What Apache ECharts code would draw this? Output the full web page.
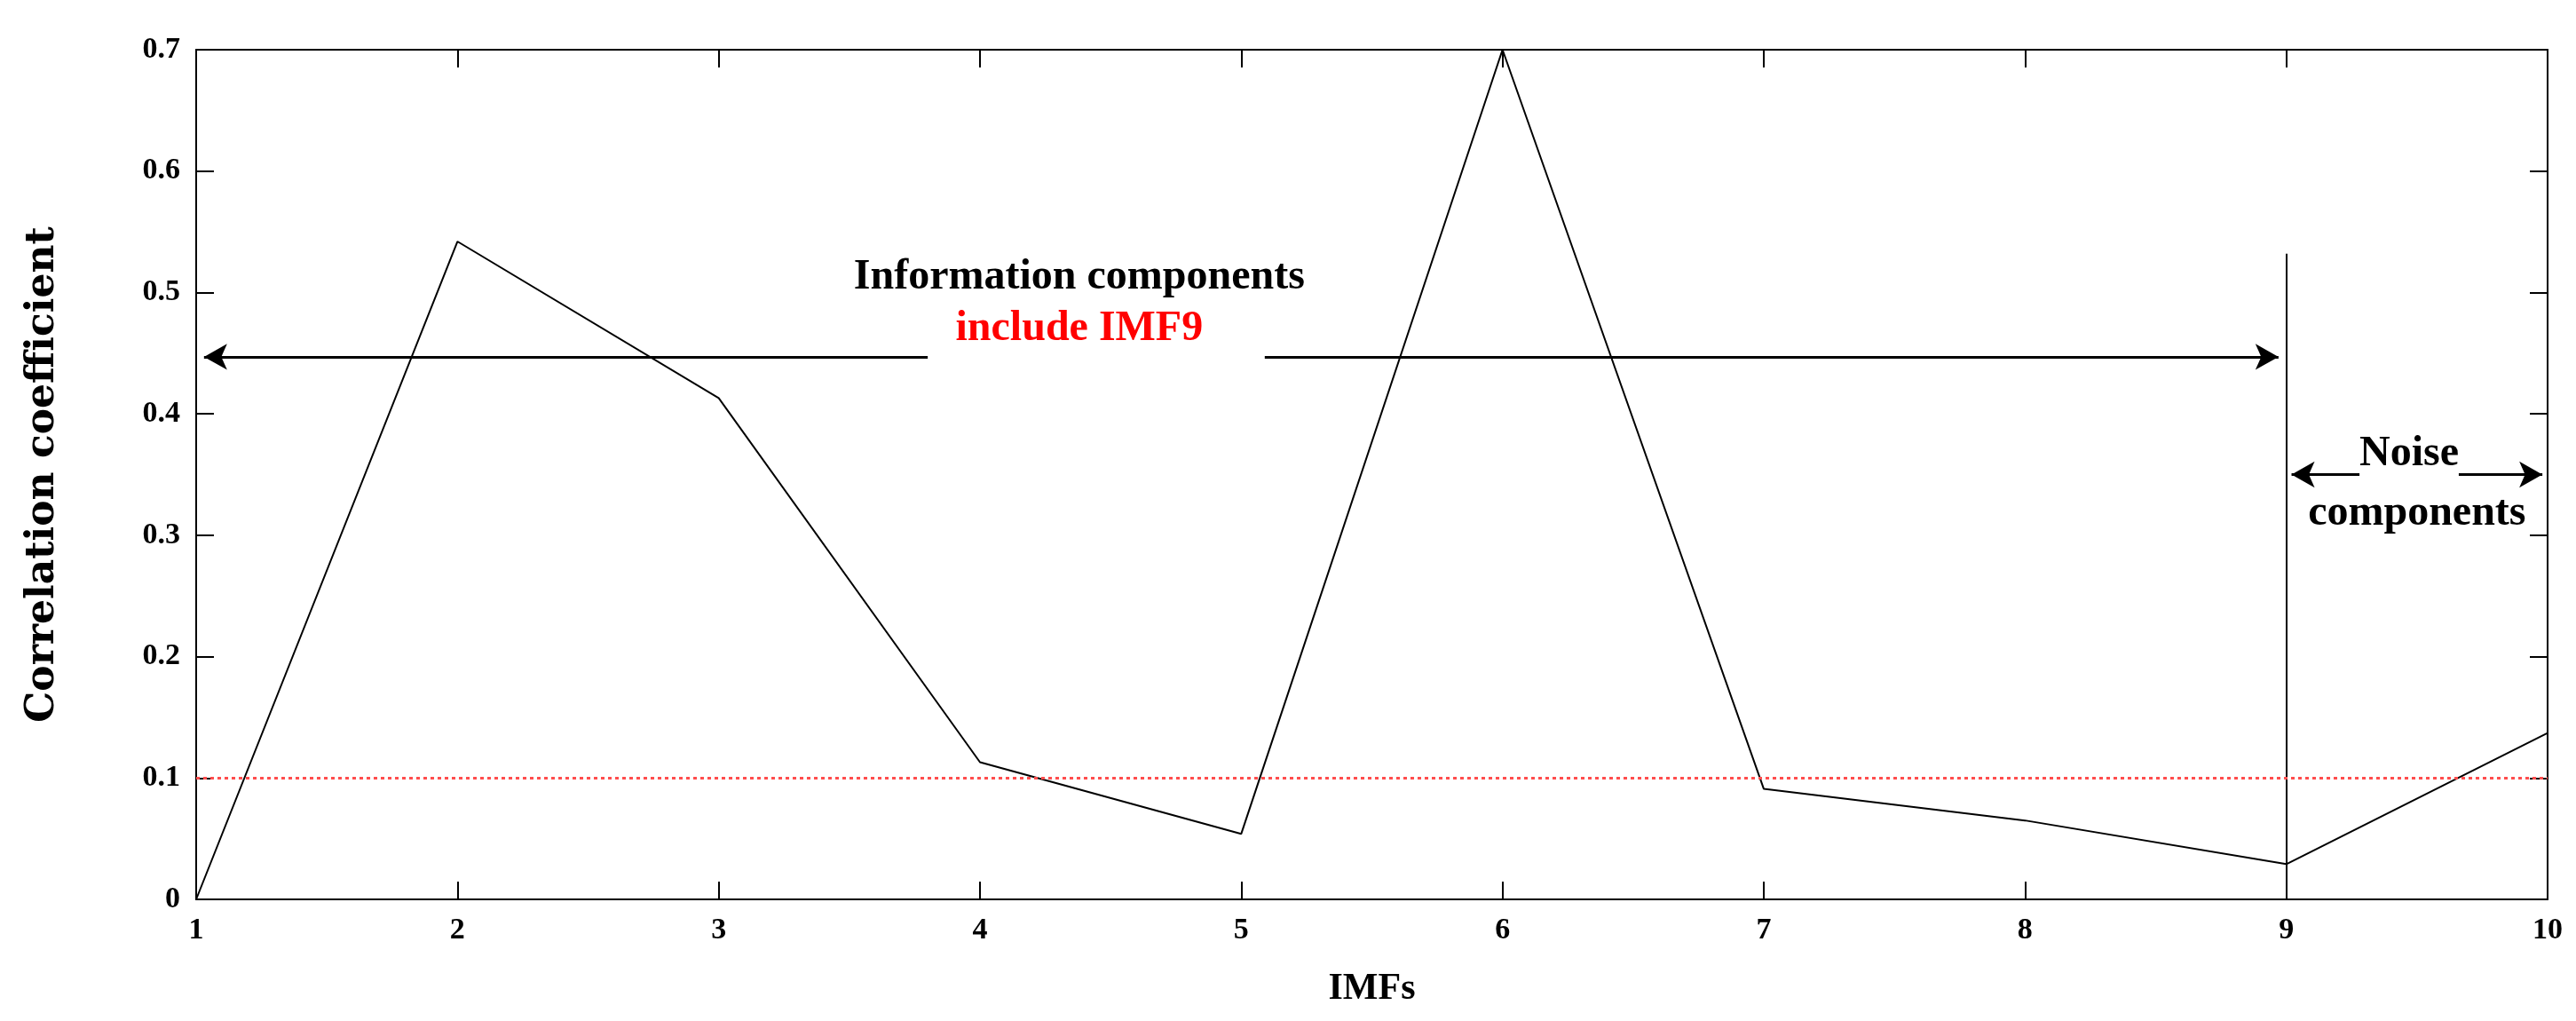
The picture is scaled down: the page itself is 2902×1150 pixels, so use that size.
<!DOCTYPE html>
<html>
<head>
<meta charset="utf-8">
<script src="https://cdn.jsdelivr.net/npm/echarts@6/dist/echarts.min.js"></script>
<style>html,body{margin:0;padding:0;background:#fff}#chart{width:2902px;height:1150px}</style>
</head>
<body>
<div id="chart"></div>
<script>
const imfs = [1, 2, 3, 4, 5, 6, 7, 8, 9, 10];
const corr = [0.0, 0.542, 0.413, 0.113, 0.054, 0.70, 0.091, 0.065, 0.029, 0.137];
const threshold = 0.1;
const yTicks = [0, 0.1, 0.2, 0.3, 0.4, 0.5, 0.6, 0.7];

const serif = '"Liberation Serif", "DejaVu Serif", serif';
const chart = echarts.init(document.getElementById('chart'));

const arrowLine = (x1, y1, x2, y2, s1, s2) => [
    { coord: [x1, y1], symbol: s1 },
    { coord: [x2, y2], symbol: s2 }
];

const textLabels = [
    { value: [4.38, 0.512], text: 'Information components', color: '#000' },
    { value: [4.38, 0.47], text: 'include IMF9', color: '#ff0000' },
    { value: [9.47, 0.367], text: 'Noise', color: '#000' },
    { value: [9.5, 0.318], text: 'components', color: '#000' }
];

chart.setOption({
    animation: false,
    grid: { left: 221, right: 32, top: 56, bottom: 137 },
    xAxis: [
        {
            type: 'value', min: 1, max: 10, interval: 1,
            name: 'IMFs', nameLocation: 'middle', nameGap: 80,
            nameTextStyle: { fontFamily: serif, fontWeight: 'bold', fontSize: 42, color: '#000' },
            axisLine: { onZero: false, lineStyle: { color: '#000', width: 2 } },
            axisTick: { inside: true, length: 20, lineStyle: { color: '#000', width: 2 } },
            axisLabel: { fontFamily: serif, fontWeight: 'bold', fontSize: 34, color: '#000', margin: 18 },
            splitLine: { show: false }
        },
        {
            type: 'value', min: 1, max: 10, interval: 1, position: 'top',
            axisLine: { show: true, onZero: false, lineStyle: { color: '#000', width: 2 } },
            axisTick: { show: true, inside: true, length: 20, lineStyle: { color: '#000', width: 2 } },
            axisLabel: { show: false }, splitLine: { show: false }
        }
    ],
    yAxis: [
        {
            type: 'value', min: 0, max: 0.7, interval: 0.1,
            name: 'Correlation coefficient', nameLocation: 'middle', nameGap: 150,
            nameTextStyle: { fontFamily: '"DejaVu Serif", serif', fontWeight: 'bold', fontSize: 44, color: '#000' },
            axisLine: { show: true, onZero: false, lineStyle: { color: '#000', width: 2 } },
            axisTick: { show: true, inside: true, length: 20, lineStyle: { color: '#000', width: 2 } },
            axisLabel: {
                fontFamily: serif, fontWeight: 'bold', fontSize: 34, color: '#000', margin: 18,
                formatter: v => yTicks.includes(+v.toFixed(1)) ? String(+v.toFixed(1)) : ''
            },
            splitLine: { show: false }
        },
        {
            type: 'value', min: 0, max: 0.7, interval: 0.1, position: 'right',
            axisLine: { show: true, onZero: false, lineStyle: { color: '#000', width: 2 } },
            axisTick: { show: true, inside: true, length: 20, lineStyle: { color: '#000', width: 2 } },
            axisLabel: { show: false }, splitLine: { show: false }
        }
    ],
    series: [
        {
            type: 'line',
            data: imfs.map((x, i) => [x, corr[i]]),
            symbol: 'none',
            lineStyle: { color: '#000', width: 2 },
            markLine: {
                silent: true,
                symbolSize: [22, 26],
                label: { show: false },
                lineStyle: { color: '#000', width: 3, type: 'solid' },
                data: [
                    arrowLine(1.03, 0.447, 3.8, 0.447, 'arrow', 'none'),
                    arrowLine(5.09, 0.447, 8.97, 0.447, 'none', 'arrow'),
                    arrowLine(9.02, 0.35, 9.28, 0.35, 'arrow', 'none'),
                    arrowLine(9.66, 0.35, 9.98, 0.35, 'none', 'arrow'),
                    [
                        { coord: [9, 0], symbol: 'none', lineStyle: { width: 2 } },
                        { coord: [9, 0.532], symbol: 'none' }
                    ],
                    [
                        { coord: [1, threshold], symbol: 'none', lineStyle: { color: '#ff4d4d', width: 3, type: [4, 4] } },
                        { coord: [10, threshold], symbol: 'none' }
                    ]
                ]
            }
        },
        {
            type: 'scatter',
            symbolSize: 0,
            silent: true,
            itemStyle: { opacity: 1 },
            data: textLabels.map(t => ({
                value: t.value,
                label: {
                    show: true, position: 'inside', formatter: t.text,
                    fontFamily: serif, fontWeight: 'bold', fontSize: 48, color: t.color,
                    opacity: 1, textBorderWidth: 0
                }
            }))
        }
    ]
});
</script>
</body>
</html>
